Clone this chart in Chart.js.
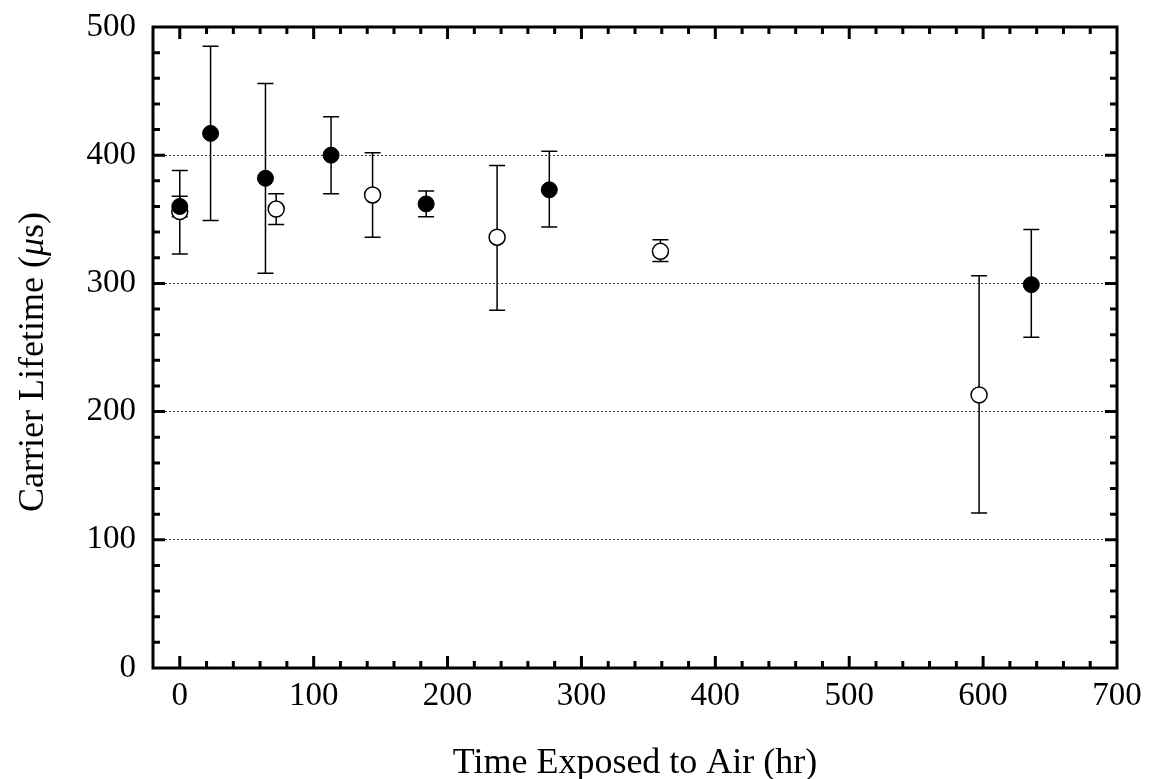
<!DOCTYPE html>
<html>
<head>
<meta charset="utf-8">
<script src="https://cdn.jsdelivr.net/npm/chart.js@4.4.1/dist/chart.umd.min.js"></script>
<style>
  html, body { margin: 0; padding: 0; background: #fff; }
  #wrap { width: 1157px; height: 779px; }
</style>
</head>
<body>
<div id="wrap"><canvas id="lifetime-chart" width="1157" height="779"></canvas></div>
<script>
// Filled circles
var filledTime = [0, 23, 64, 113, 184, 276, 636];
var filledLife = [360, 417, 382, 400, 362, 373, 299];
var filledHigh = [368, 485, 456, 430, 372, 403, 342];
var filledLow  = [352, 349, 308, 370, 352, 344, 258];

// Open circles
var openTime = [0, 72, 144, 237, 359, 597];
var openLife = [356, 358, 369, 336, 325, 213];
var openHigh = [388, 370, 402, 392, 334, 306];
var openLow  = [323, 346, 336, 279, 317, 121];

var xTickLabels = [0, 100, 200, 300, 400, 500, 600, 700];
var yTickLabels = [0, 100, 200, 300, 400, 500];

var FONT = "'Liberation Serif', 'Times New Roman', serif";

function toPoints(xs, ys) {
    return xs.map(function (x, i) { return { x: x, y: ys[i] }; });
}

// error bars, drawn under the markers
var errorBars = {
    id: 'errorBars',
    beforeDatasetsDraw: function (chart) {
        var ctx = chart.ctx;
        var xs = chart.scales.x, ys = chart.scales.y;
        var sets = [
            [filledTime, filledHigh, filledLow],
            [openTime, openHigh, openLow]
        ];
        ctx.save();
        ctx.strokeStyle = '#000';
        ctx.lineWidth = 1.5;
        sets.forEach(function (s) {
            s[0].forEach(function (t, i) {
                var px = xs.getPixelForValue(t);
                var top = ys.getPixelForValue(s[1][i]);
                var bot = ys.getPixelForValue(s[2][i]);
                ctx.beginPath();
                ctx.moveTo(px, top); ctx.lineTo(px, bot);
                ctx.moveTo(px - 8, top); ctx.lineTo(px + 8, top);
                ctx.moveTo(px - 8, bot); ctx.lineTo(px + 8, bot);
                ctx.stroke();
            });
        });
        ctx.restore();
    }
};

// box frame with inward ticks on all sides + axis titles
var frame = {
    id: 'frame',
    afterDraw: function (chart) {
        var ctx = chart.ctx;
        var a = chart.chartArea;
        var xs = chart.scales.x, ys = chart.scales.y;
        ctx.save();
        ctx.strokeStyle = '#000';
        ctx.lineWidth = 3;
        ctx.strokeRect(a.left, a.top, a.right - a.left, a.bottom - a.top);

        ctx.beginPath();
        xs.ticks.forEach(function (t) {
            if (t.value <= xs.min || t.value >= xs.max) return;
            var px = xs.getPixelForValue(t.value);
            var len = (t.value % 100 === 0) ? 12 : 7;
            ctx.moveTo(px, a.bottom); ctx.lineTo(px, a.bottom - len);
            ctx.moveTo(px, a.top); ctx.lineTo(px, a.top + len);
        });
        ys.ticks.forEach(function (t) {
            if (t.value <= ys.min || t.value >= ys.max) return;
            var py = ys.getPixelForValue(t.value);
            var len = (t.value % 100 === 0) ? 12 : 7;
            ctx.moveTo(a.left, py); ctx.lineTo(a.left + len, py);
            ctx.moveTo(a.right, py); ctx.lineTo(a.right - len, py);
        });
        ctx.stroke();

        // x title
        ctx.fillStyle = '#000';
        ctx.font = '36px ' + FONT;
        ctx.textAlign = 'center';
        ctx.textBaseline = 'alphabetic';
        ctx.fillText('Time Exposed to Air (hr)', (a.left + a.right) / 2, 773);

        // y title, with italic mu
        var parts = [
            ['Carrier Lifetime (', '36px ' + FONT],
            ['\u03bc', 'italic 36px ' + FONT],
            ['s)', '36px ' + FONT]
        ];
        var total = 0;
        parts.forEach(function (p) { ctx.font = p[1]; total += ctx.measureText(p[0]).width; });
        ctx.translate(43, 362);
        ctx.rotate(-Math.PI / 2);
        ctx.textAlign = 'left';
        var x = -total / 2;
        parts.forEach(function (p) {
            ctx.font = p[1];
            ctx.fillText(p[0], x, 0);
            x += ctx.measureText(p[0]).width;
        });
        ctx.restore();
    }
};

var ctx = document.getElementById('lifetime-chart');

var chartData = {
    datasets: [{
        label: 'filled',
        data: toPoints(filledTime, filledLife),
        pointRadius: 8,
        pointBackgroundColor: '#000',
        pointBorderColor: '#000',
        pointBorderWidth: 1,
        showLine: false
    }, {
        label: 'open',
        data: toPoints(openTime, openLife),
        pointRadius: 8,
        pointBackgroundColor: '#fff',
        pointBorderColor: '#000',
        pointBorderWidth: 1.5,
        showLine: false
    }]
};

var chartOptions = {
    responsive: false,
    animation: false,
    layout: { padding: { top: 27, right: 40, left: 0, bottom: 0 } },
    plugins: {
        legend: { display: false },
        tooltip: { enabled: false }
    },
    scales: {
        x: {
            type: 'linear',
            min: -20,
            max: 700,
            afterFit: function (s) {
                s.height = 111;
                s.paddingLeft = 0;
                s.paddingRight = 0;
            },
            grid: { display: false, drawTicks: false },
            border: { display: false },
            ticks: {
                stepSize: 20,
                autoSkip: false,
                maxRotation: 0,
                minRotation: 0,
                padding: 9,
                color: '#000',
                font: { family: FONT, size: 33 },
                callback: function (v) { return xTickLabels.indexOf(v) >= 0 ? String(v) : ''; }
            }
        },
        y: {
            type: 'linear',
            min: 0,
            max: 500,
            afterFit: function (s) {
                s.width = 153;
                s.paddingTop = 0;
                s.paddingBottom = 0;
            },
            grid: {
                drawTicks: false,
                lineWidth: 1,
                color: function (c) {
                    var v = c.tick ? c.tick.value : 0;
                    return (v % 100 === 0 && v > 0 && v < 500) ? '#333' : 'rgba(0,0,0,0)';
                }
            },
            border: { display: false, dash: [2, 2] },
            ticks: {
                stepSize: 20,
                autoSkip: false,
                padding: 17,
                color: '#000',
                font: { family: FONT, size: 33 },
                callback: function (v) { return yTickLabels.indexOf(v) >= 0 ? String(v) : ''; }
            }
        }
    }
};

var config = {
    type: 'scatter',
    data: chartData,
    options: chartOptions,
    plugins: [errorBars, frame]
};

var lifetimeChart = new Chart(ctx, config);
</script>
</body>
</html>
